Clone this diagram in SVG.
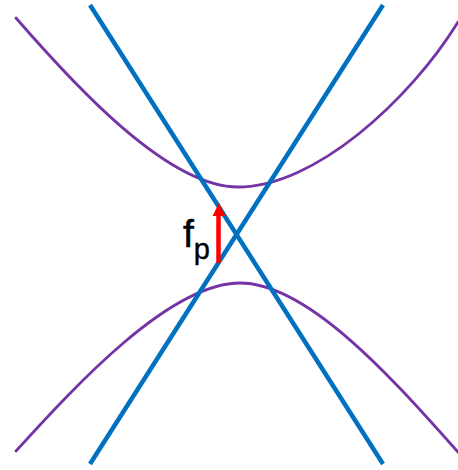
<svg xmlns="http://www.w3.org/2000/svg" width="458" height="470" viewBox="0 0 458 470">
<style>
.band{fill:none;stroke:#7434A6;stroke-width:2.8;stroke-linecap:round}
.line{fill:none;stroke:#0070C0;stroke-width:4.5;stroke-linecap:butt}
.lbl{font-family:"Liberation Sans",Arial,sans-serif;fill:#000}
</style>
<rect width="458" height="470" fill="#fff"/>
<g id="bands">
<path id="upper-band" class="band" d="M16,18 C76,87 168,187 238,187 C315,187 410,100 458,22"/>
<path id="lower-band" class="band" d="M16,451 C76,385 170,283 240,283 C310,283 398,385 458,452"/>
</g>
<g id="lines">
<line class="line" x1="90" y1="5" x2="383" y2="464"/>
<line class="line" x1="383" y1="5" x2="90" y2="464"/>
</g>
<g id="fp-arrow">
<line x1="218.5" y1="263" x2="218.5" y2="213" stroke="#FF0000" stroke-width="4.5"/>
<polygon points="212.5,216 219,203 225.5,216" fill="#FF0000"/>
</g>
<g id="fp-label">
<text class="lbl" x="183" y="247" font-size="39" stroke="#000" stroke-width="0.5">f<tspan font-size="29" dy="12" stroke-width="0.4">p</tspan></text>
</g>
</svg>
